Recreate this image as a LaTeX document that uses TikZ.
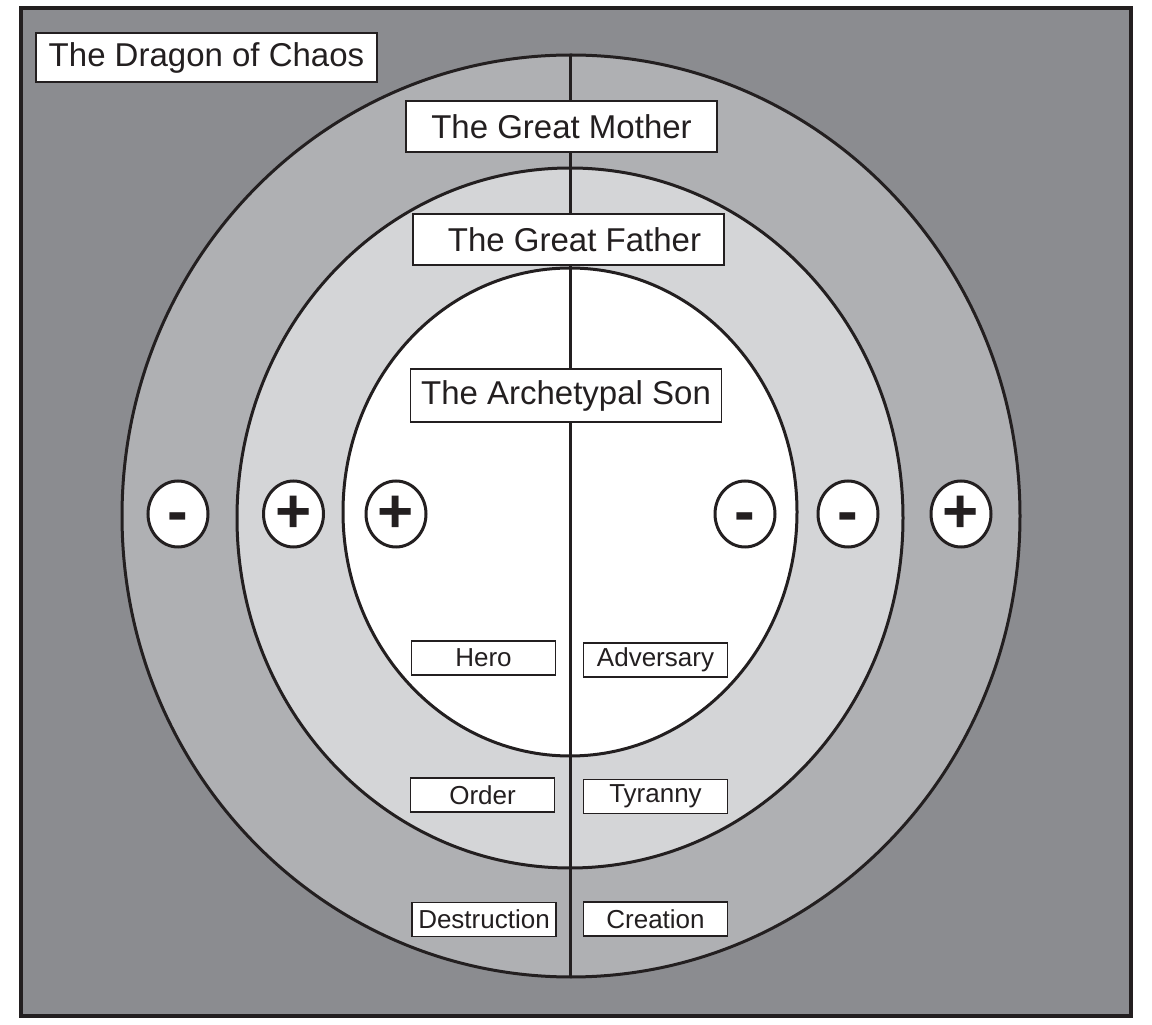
\documentclass[tikz,border=0pt]{standalone}
\usepackage{fontspec}
\setmainfont{Liberation Sans}
\usetikzlibrary{shapes.geometric}

\definecolor{chaosgray}{HTML}{8B8C90}
\definecolor{mothergray}{HTML}{AFB0B3}
\definecolor{fathergray}{HTML}{D4D5D7}
\definecolor{inkblack}{HTML}{231F20}

\begin{document}
\begin{tikzpicture}[x=0.5pt,y=0.5pt,
    titlebox/.style={draw=inkblack, fill=white, line width=0.8pt, inner sep=0pt,
        text=inkblack, font=\fontsize{16.5}{18}\selectfont},
    tagbox/.style={draw=inkblack, fill=white, line width=0.8pt, inner sep=0pt,
        minimum width=72pt, minimum height=17pt,
        text=inkblack, font=\fontsize{13}{15}\selectfont},
    signnode/.style={ellipse, draw=inkblack, fill=white, line width=1.5pt, inner sep=0pt,
        minimum width=30pt, minimum height=33pt,
        text=inkblack, font=\fontsize{31}{31}\selectfont\bfseries}]

    % --- Canvas and frame ---
    \fill[white] (0,0) rectangle (1152,1024);
    \useasboundingbox (0,0) rectangle (1152,1024);
    \filldraw[fill=chaosgray, draw=inkblack, line width=1.8pt] (21,8) rectangle (1131,1016);

    % --- Key coordinates ---
    \coordinate (Top) at (570,969);
    \coordinate (Bottom) at (570,47);

    % --- Rings ---
    \filldraw[fill=mothergray, draw=inkblack, line width=1.5pt]
        (571,508) ellipse [x radius=449, y radius=461];
    \filldraw[fill=fathergray, draw=inkblack, line width=1.5pt]
        (570,506) ellipse [x radius=333, y radius=350];
    \filldraw[fill=white, draw=inkblack, line width=1.5pt]
        (570,512) ellipse [x radius=227, y radius=244];

    % --- Dividing line ---
    \draw[inkblack, line width=1.5pt] (Top) -- (Bottom);

    % --- Titles ---
    \node[titlebox, minimum width=170.5pt, minimum height=24.5pt] (Dragon) at (206.5,966.5) {The Dragon of Chaos};
    \node[titlebox, minimum width=155.5pt, minimum height=25.5pt] (Mother) at (561.5,897.5) {The Great Mother};
    \node[titlebox, minimum width=155.5pt, minimum height=25.5pt] (Father) at (568.5,784.5) {\hspace{6pt}The Great Father};
    \node[titlebox, minimum width=155.5pt, minimum height=26.5pt] (Son) at (566,628.5) {The Archetypal Son};

    % --- Left and right labels ---
    \node[tagbox] (Hero) at (483.5,366) {Hero};
    \node[tagbox] (Adversary) at (655.5,364) {Adversary};
    \node[tagbox] (Order) at (482.5,229) {Order};
    \node[tagbox] (Tyranny) at (655.5,227.5) {Tyranny};
    \node[tagbox] (Destruction) at (484,104.5) {Destruction};
    \node[tagbox] (Creation) at (655.5,105) {Creation};

    % --- Signs ---
    \foreach \px/\sym [count=\i] in {178/-, 293.5/+, 396/+, 745/-, 848/-, 961/+}
        \node[signnode] (sign\i) at (\px,510) {\vphantom{+}\sym};

\end{tikzpicture}
\end{document}
